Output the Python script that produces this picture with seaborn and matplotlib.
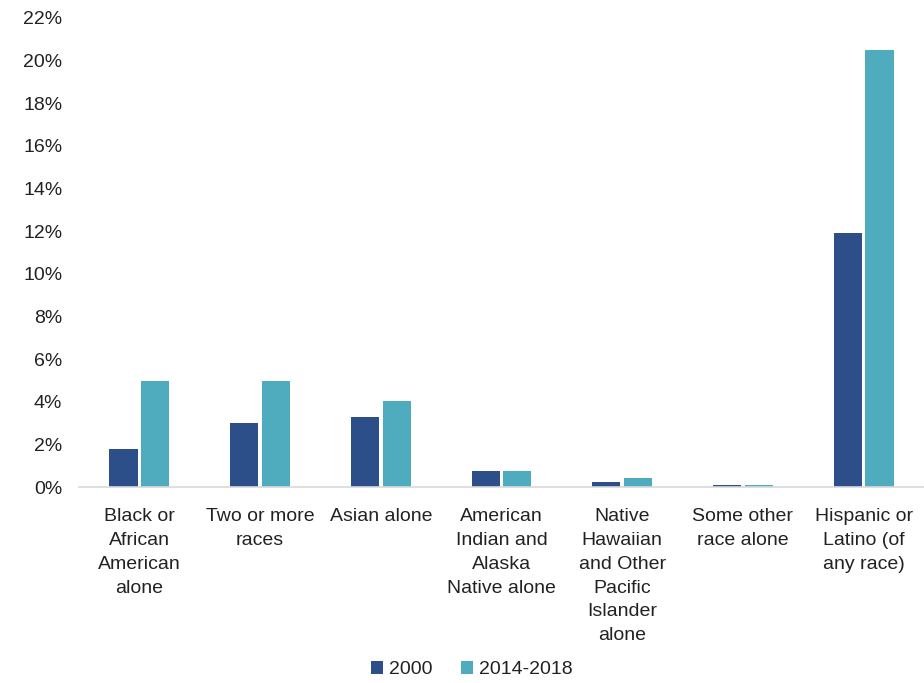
import matplotlib
matplotlib.use("Agg")
import matplotlib.pyplot as plt
import seaborn as sns
import pandas as pd
from matplotlib.ticker import FuncFormatter, MultipleLocator

categories = [
    "Black or\nAfrican\nAmerican\nalone",
    "Two or more\nraces",
    "Asian alone",
    "American\nIndian and\nAlaska\nNative alone",
    "Native\nHawaiian\nand Other\nPacific\nIslander\nalone",
    "Some other\nrace alone",
    "Hispanic or\nLatino (of\nany race)",
]
series_names = ["2000", "2014-2018"]
values_2000 = [1.8, 3.0, 3.3, 0.75, 0.23, 0.1, 11.9]
values_2014 = [4.95, 4.95, 4.05, 0.75, 0.42, 0.1, 20.5]
colors = ["#2C4F8A", "#4FACBF"]

df = pd.DataFrame({
    "category": categories * 2,
    "series": [series_names[0]] * len(categories) + [series_names[1]] * len(categories),
    "value": values_2000 + values_2014,
})

sns.set_theme(style="white")
plt.rcParams["font.family"] = ["Liberation Sans", "DejaVu Sans"]

fig = plt.figure(figsize=(9.24, 6.83), dpi=100)
ax = fig.add_axes([79 / 924, 1 - 487 / 683, 845 / 924, (487 - 18) / 683])

sns.barplot(data=df, x="category", y="value", hue="series", order=categories,
            hue_order=series_names, palette=colors, saturation=1, width=0.525, gap=0.11,
            linewidth=0, ax=ax, legend=True)

ax.set_ylim(0, 22)
ax.yaxis.set_major_locator(MultipleLocator(2))
ax.yaxis.set_major_formatter(FuncFormatter(lambda v, p: f"{int(round(v))}%"))
ax.set_xlim(-0.5, len(categories) - 0.5)
ax.set_xlabel("")
ax.set_ylabel("")
for s in ["top", "right", "left"]:
    ax.spines[s].set_visible(False)
ax.spines["bottom"].set_color("#d9d9d9")
ax.spines["bottom"].set_linewidth(1.2)
ax.tick_params(axis="y", length=0, labelsize=14, colors="#222222", pad=12)
ax.tick_params(axis="x", length=0, labelsize=14, colors="#222222", pad=15)
for lbl in ax.get_xticklabels():
    lbl.set_linespacing(1.53)

leg = ax.legend(loc="lower center", bbox_to_anchor=(0.5 - 0.035, -0.445), ncol=2,
                frameon=False, fontsize=14, handlelength=0.6, handleheight=0.6,
                handletextpad=0.3, columnspacing=1.5)
for t in leg.get_texts():
    t.set_color("#222222")

fig.savefig("out.png", dpi=100)
